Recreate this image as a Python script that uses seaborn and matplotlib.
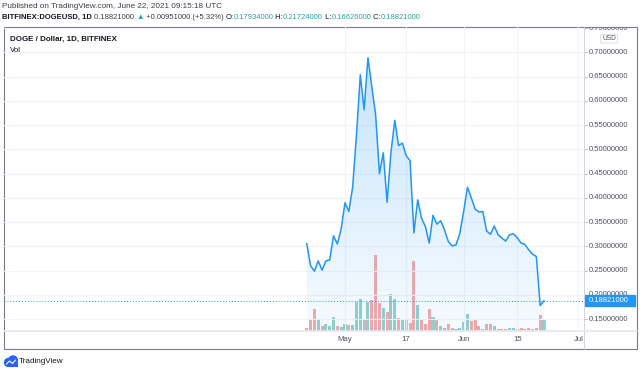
import numpy as np
import pandas as pd
import matplotlib
matplotlib.use('Agg')
import matplotlib.pyplot as plt
import matplotlib.dates as mdates
import matplotlib.patches as mpatches
import seaborn as sns

# DOGE/USD daily closes, Bitfinex
dates = pd.date_range('2021-04-21', '2021-06-22', freq='D')
close = [0.306, 0.260, 0.249, 0.270, 0.251, 0.270, 0.272, 0.322, 0.305, 0.336,
         0.390, 0.372, 0.422, 0.530, 0.654, 0.582, 0.689, 0.630, 0.572, 0.450,
         0.493, 0.391, 0.493, 0.560, 0.508, 0.513, 0.487, 0.477, 0.328, 0.396,
         0.358, 0.341, 0.307, 0.364, 0.346, 0.353, 0.334, 0.310, 0.301, 0.303,
         0.327, 0.372, 0.422, 0.400, 0.377, 0.371, 0.372, 0.332, 0.325, 0.342,
         0.324, 0.317, 0.311, 0.324, 0.326, 0.318, 0.307, 0.304, 0.293, 0.284,
         0.279, 0.178, 0.18821]
# volume (relative units) and candle direction (1 = up day, 0 = down day)
volume = [10, 37, 65, 35, 15, 20, 14, 41, 14, 11,
          20, 17, 17, 87, 95, 37, 87, 92, 227, 84,
          70, 57, 110, 95, 40, 37, 37, 24, 209, 77,
          37, 20, 67, 42, 34, 14, 10, 22, 10, 6,
          9, 26, 50, 30, 32, 14, 6, 22, 20, 14,
          7, 7, 6, 10, 10, 6, 9, 6, 10, 6,
          10, 47, 32]
up = [0, 0, 0, 1, 0, 1, 1, 1, 0, 1,
      1, 0, 1, 1, 1, 0, 1, 0, 0, 0,
      1, 0, 1, 1, 0, 1, 0, 0, 0, 1,
      0, 0, 0, 1, 0, 1, 0, 0, 0, 1,
      1, 1, 1, 0, 0, 0, 1, 0, 0, 1,
      0, 0, 0, 1, 1, 0, 0, 0, 0, 1,
      0, 0, 1]
last_price = 0.18821
price_ticks = [0.15, 0.20, 0.25, 0.30, 0.35, 0.40, 0.45, 0.50, 0.55, 0.60, 0.65, 0.70, 0.75]
time_ticks = ['2021-05-01', '2021-05-17', '2021-06-01', '2021-06-15', '2021-07-01']
time_labels = ['May', '17', 'Jun', '15', 'Jul']

df = pd.DataFrame({'date': dates, 'close': close, 'volume': volume, 'up': up})

sns.set_theme(style='white')
plt.rcParams['font.family'] = ['Liberation Sans', 'DejaVu Sans']

W, H = 640, 372
fig = plt.figure(figsize=(W / 100, H / 100), dpi=100)


def rect(x0, y0, x1, y1):
    return [x0 / W, 1 - y1 / H, (x1 - x0) / W, (y1 - y0) / H]


BLUE = '#2196f3'
TXT = '#131722'
AXT = '#50535e'
GRID = '#f0f3fa'
PANE_H = 304

ax = fig.add_axes(rect(4, 27, 584, 331))
ax.set_facecolor('none')
ymin, ymax = 0.1255, 0.7525
may1 = pd.Timestamp('2021-05-01')
xl = mdates.date2num(may1 - pd.Timedelta(days=89.1))
xr = mdates.date2num(may1 + pd.Timedelta(days=62.45))

# grid
for v in price_ticks:
    ax.axhline(v, color=GRID, lw=0.8, zorder=0)
for d in time_ticks:
    ax.axvline(mdates.date2num(pd.Timestamp(d)), color=GRID, lw=0.8, zorder=0)

# volume on twin axis
axv = ax.twinx()
axv.set_ylim(0, 227 * PANE_H / 75.7)
xnum = mdates.date2num(df['date'])
vcol = ['#92d2cc' if u else '#f7a9a7' for u in df['up']]
axv.bar(xnum, df['volume'], width=0.8, color=vcol, linewidth=0, zorder=1)
axv.axis('off')

# gradient area under the price line
poly = ax.fill_between(xnum, df['close'], ymin, color='none', lw=0)
img = np.zeros((256, 1, 4))
img[..., 0], img[..., 1], img[..., 2] = 0x21 / 255, 0x96 / 255, 0xf3 / 255
img[..., 3] = np.linspace(0.04, 0.26, 256).reshape(-1, 1)
im = ax.imshow(img, extent=[xnum[0], xnum[-1], ymin, 0.70], origin='lower', aspect='auto', zorder=2)
im.set_clip_path(poly.get_paths()[0], transform=ax.transData)

sns.lineplot(data=df, x='date', y='close', ax=ax, color=BLUE, lw=1.1, zorder=4)
ax.set_zorder(axv.get_zorder() + 1)
ax.axhline(last_price, color=BLUE, lw=0.7, ls=(0, (1, 2)), zorder=3)
ax.set_ylim(ymin, ymax)
ax.set_xlim(xl, xr)
axv.set_xlim(xl, xr)
ax.set_xlabel('')
ax.set_ylabel('')
ax.set_xticks([])
ax.set_yticks([])
for s in ax.spines.values():
    s.set_visible(False)

# time axis labels
for d, lab in zip(time_ticks, time_labels):
    ax.text(mdates.date2num(pd.Timestamp(d)), -8.6 / PANE_H, lab, transform=ax.get_xaxis_transform(),
            ha='center', va='center', fontsize=5.6, color=AXT, clip_on=False)

# price scale, drawn in pixel units
axp = fig.add_axes(rect(584, 27, 637, 331))
axp.set_xlim(0, 53)
axp.set_ylim(PANE_H, 0)
axp.axis('off')


def py(v):
    return (ymax - v) / (ymax - ymin) * PANE_H


for v in price_ticks:
    axp.plot([0, 3], [py(v), py(v)], color='#b2b5be', lw=0.6)
    axp.text(5, py(v), f'{v:.8f}', ha='left', va='center', fontsize=5.5, color=AXT, clip_on=True)
axp.add_patch(mpatches.Rectangle((0.5, py(last_price) - 5.2), 50, 10.4, color=BLUE, zorder=5))
axp.text(5, py(last_price), f'{last_price:.8f}', ha='left', va='center', fontsize=5.5, color='white',
         zorder=6)
axp.add_patch(mpatches.FancyBboxPatch((16.5, 7.5), 17, 8.5, boxstyle='round,pad=0,rounding_size=1.5',
                                      fc='white', ec='#d1d4dc', lw=0.5, zorder=5))
axp.text(25, 11.8, 'USD', ha='center', va='center', fontsize=4.8, color=AXT, zorder=6)

# frame and separators
fig.add_artist(mpatches.Rectangle((4 / W, 1 - 349 / H), 633 / W, 322 / H, transform=fig.transFigure,
                                  fill=False, ec='#787b86', lw=0.8))
fig.add_artist(plt.Line2D([584 / W, 584 / W], [1 - 349 / H, 1 - 27 / H], transform=fig.transFigure,
                          color='#d1d4dc', lw=0.7))
fig.add_artist(plt.Line2D([4 / W, 637 / W], [1 - 331 / H, 1 - 331 / H], transform=fig.transFigure,
                          color='#e6e8ee', lw=1.3))

# header texts
FS = 5.9
renderer = fig.canvas.get_renderer()


def pieces(x, y, items, size):
    for s, c, w in items:
        t = fig.text(x / W, 1 - y / H, s, color=c, fontweight=w, fontsize=size, ha='left', va='center')
        x += t.get_window_extent(renderer).width


fig.text(2 / W, 1 - 6.5 / H, 'Published on TradingView.com, June 22, 2021 09:15:18 UTC',
         fontsize=FS, color='#3a3d46', ha='left', va='center')
TEAL = '#26a69a'
pieces(2, 17.5, [('BITFINEX:DOGEUSD, 1D', TXT, 'bold'), (' 0.18821000 ', '#3a3d46', 'normal'),
                 ('\u25b2', TEAL, 'normal'), (' +0.00951000 (+5.32%) ', '#3a3d46', 'normal'),
                 ('O:', TXT, 'normal'), ('0.17934000', TEAL, 'normal'),
                 (' H:', TXT, 'normal'), ('0.21724000', TEAL, 'normal'),
                 (' L:', TXT, 'normal'), ('0.16626000', TEAL, 'normal'),
                 (' C:', TXT, 'normal'), ('0.18821000', TEAL, 'normal')], 5.5)
fig.text(10 / W, 1 - 39 / H, 'DOGE / Dollar, 1D, BITFINEX', fontsize=5.7, fontweight='bold',
         color=TXT, ha='left', va='center')
fig.text(10 / W, 1 - 51 / H, 'Vol', fontsize=5.7, color=TXT, ha='left', va='center')

# TradingView logo
lax = fig.add_axes(rect(4, 355, 18, 367))
lax.set_xlim(0, 14)
lax.set_ylim(0, 12)
lax.axis('off')
lax.add_patch(mpatches.Circle((4.5, 4.5), 4, color='#2962ff'))
lax.add_patch(mpatches.Circle((9, 6.5), 4.5, color='#2962ff'))
lax.add_patch(mpatches.Rectangle((4.5, 0.5), 9, 4, color='#2962ff'))
lax.plot([2.5, 5.5, 8.5, 11.5], [3, 6, 3.5, 7], color='white', lw=0.8)
fig.text(19 / W, 1 - 361.5 / H, 'TradingView', fontsize=FS, color=TXT, ha='left', va='center')

fig.savefig('out.png', dpi=100)
